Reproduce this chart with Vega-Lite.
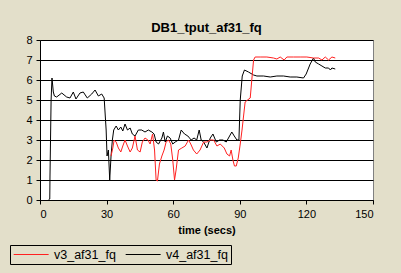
{
  "$schema": "https://vega.github.io/schema/vega-lite/v6.json",
  "width": 333,
  "height": 160,
  "autosize": {"type": "none"},
  "padding": {"left": 40, "top": 40, "right": 28, "bottom": 73},
  "background": "#E3DFCA",
  "title": {"text": "DB1_tput_af31_fq", "font": "Liberation Sans", "fontSize": 13, "fontWeight": "bold", "color": "#000000", "offset": -1, "anchor": "middle"},
  "config": {
    "view": {"fill": "#FFFFFF", "stroke": "#808080", "strokeWidth": 1},
    "axis": {"labelFont": "Liberation Sans", "labelFontSize": 11, "labelColor": "#000000", "titleFont": "Liberation Sans", "titleColor": "#000000", "domainColor": "#000000", "tickColor": "#000000", "tickSize": 4}
  },
  "data": {"values": [
    {"t": 3.8, "v": 0, "s": "v4_af31_fq"},
    {"t": 4.4, "v": 0.05, "s": "v4_af31_fq"},
    {"t": 4.5, "v": 1.2, "s": "v4_af31_fq"},
    {"t": 5.0, "v": 5.0, "s": "v4_af31_fq"},
    {"t": 5.4, "v": 6.1, "s": "v4_af31_fq"},
    {"t": 6.0, "v": 5.4, "s": "v4_af31_fq"},
    {"t": 6.5, "v": 5.2, "s": "v4_af31_fq"},
    {"t": 7.5, "v": 5.15, "s": "v4_af31_fq"},
    {"t": 9.8, "v": 5.35, "s": "v4_af31_fq"},
    {"t": 12.0, "v": 5.15, "s": "v4_af31_fq"},
    {"t": 13.5, "v": 5.1, "s": "v4_af31_fq"},
    {"t": 15.0, "v": 5.4, "s": "v4_af31_fq"},
    {"t": 16.2, "v": 5.05, "s": "v4_af31_fq"},
    {"t": 18.0, "v": 5.35, "s": "v4_af31_fq"},
    {"t": 19.5, "v": 5.4, "s": "v4_af31_fq"},
    {"t": 21.3, "v": 5.1, "s": "v4_af31_fq"},
    {"t": 23.3, "v": 5.3, "s": "v4_af31_fq"},
    {"t": 24.8, "v": 5.5, "s": "v4_af31_fq"},
    {"t": 26.3, "v": 5.2, "s": "v4_af31_fq"},
    {"t": 27.8, "v": 5.3, "s": "v4_af31_fq"},
    {"t": 28.9, "v": 5.1, "s": "v4_af31_fq"},
    {"t": 29.8, "v": 3.5, "s": "v4_af31_fq"},
    {"t": 30.2, "v": 2.2, "s": "v4_af31_fq"},
    {"t": 30.8, "v": 2.5, "s": "v4_af31_fq"},
    {"t": 31.4, "v": 1.0, "s": "v4_af31_fq"},
    {"t": 32.0, "v": 2.2, "s": "v4_af31_fq"},
    {"t": 32.6, "v": 3.0, "s": "v4_af31_fq"},
    {"t": 33.2, "v": 3.5, "s": "v4_af31_fq"},
    {"t": 34.3, "v": 3.7, "s": "v4_af31_fq"},
    {"t": 35.3, "v": 3.5, "s": "v4_af31_fq"},
    {"t": 36.4, "v": 3.65, "s": "v4_af31_fq"},
    {"t": 37.3, "v": 3.45, "s": "v4_af31_fq"},
    {"t": 38.3, "v": 3.8, "s": "v4_af31_fq"},
    {"t": 39.4, "v": 3.5, "s": "v4_af31_fq"},
    {"t": 40.6, "v": 3.6, "s": "v4_af31_fq"},
    {"t": 41.6, "v": 3.3, "s": "v4_af31_fq"},
    {"t": 42.8, "v": 3.2, "s": "v4_af31_fq"},
    {"t": 44.3, "v": 3.5, "s": "v4_af31_fq"},
    {"t": 45.8, "v": 3.5, "s": "v4_af31_fq"},
    {"t": 47.3, "v": 3.4, "s": "v4_af31_fq"},
    {"t": 48.8, "v": 3.5, "s": "v4_af31_fq"},
    {"t": 50.4, "v": 3.4, "s": "v4_af31_fq"},
    {"t": 51.4, "v": 3.3, "s": "v4_af31_fq"},
    {"t": 52.3, "v": 2.9, "s": "v4_af31_fq"},
    {"t": 53.4, "v": 2.8, "s": "v4_af31_fq"},
    {"t": 54.9, "v": 3.1, "s": "v4_af31_fq"},
    {"t": 55.6, "v": 3.4, "s": "v4_af31_fq"},
    {"t": 56.4, "v": 2.9, "s": "v4_af31_fq"},
    {"t": 57.4, "v": 3.2, "s": "v4_af31_fq"},
    {"t": 58.6, "v": 3.1, "s": "v4_af31_fq"},
    {"t": 59.8, "v": 2.8, "s": "v4_af31_fq"},
    {"t": 60.9, "v": 2.9, "s": "v4_af31_fq"},
    {"t": 62.4, "v": 3.0, "s": "v4_af31_fq"},
    {"t": 63.6, "v": 3.5, "s": "v4_af31_fq"},
    {"t": 65.1, "v": 3.3, "s": "v4_af31_fq"},
    {"t": 66.6, "v": 3.2, "s": "v4_af31_fq"},
    {"t": 68.1, "v": 3.0, "s": "v4_af31_fq"},
    {"t": 69.4, "v": 3.1, "s": "v4_af31_fq"},
    {"t": 70.6, "v": 3.0, "s": "v4_af31_fq"},
    {"t": 71.7, "v": 3.5, "s": "v4_af31_fq"},
    {"t": 72.6, "v": 3.0, "s": "v4_af31_fq"},
    {"t": 73.7, "v": 2.9, "s": "v4_af31_fq"},
    {"t": 75.2, "v": 2.6, "s": "v4_af31_fq"},
    {"t": 76.7, "v": 3.1, "s": "v4_af31_fq"},
    {"t": 77.9, "v": 3.3, "s": "v4_af31_fq"},
    {"t": 79.4, "v": 2.9, "s": "v4_af31_fq"},
    {"t": 80.9, "v": 3.0, "s": "v4_af31_fq"},
    {"t": 82.4, "v": 3.0, "s": "v4_af31_fq"},
    {"t": 83.9, "v": 2.9, "s": "v4_af31_fq"},
    {"t": 85.4, "v": 3.2, "s": "v4_af31_fq"},
    {"t": 86.4, "v": 3.4, "s": "v4_af31_fq"},
    {"t": 87.5, "v": 3.2, "s": "v4_af31_fq"},
    {"t": 88.7, "v": 3.0, "s": "v4_af31_fq"},
    {"t": 89.6, "v": 3.0, "s": "v4_af31_fq"},
    {"t": 90.2, "v": 5.0, "s": "v4_af31_fq"},
    {"t": 91.1, "v": 6.2, "s": "v4_af31_fq"},
    {"t": 92.1, "v": 6.5, "s": "v4_af31_fq"},
    {"t": 93.9, "v": 6.4, "s": "v4_af31_fq"},
    {"t": 96.2, "v": 6.25, "s": "v4_af31_fq"},
    {"t": 97.7, "v": 6.2, "s": "v4_af31_fq"},
    {"t": 100.7, "v": 6.2, "s": "v4_af31_fq"},
    {"t": 103.7, "v": 6.15, "s": "v4_af31_fq"},
    {"t": 106.7, "v": 6.2, "s": "v4_af31_fq"},
    {"t": 109.7, "v": 6.2, "s": "v4_af31_fq"},
    {"t": 112.7, "v": 6.15, "s": "v4_af31_fq"},
    {"t": 115.7, "v": 6.15, "s": "v4_af31_fq"},
    {"t": 118.7, "v": 6.1, "s": "v4_af31_fq"},
    {"t": 119.9, "v": 6.3, "s": "v4_af31_fq"},
    {"t": 121.7, "v": 6.8, "s": "v4_af31_fq"},
    {"t": 123.2, "v": 7.1, "s": "v4_af31_fq"},
    {"t": 124.0, "v": 6.9, "s": "v4_af31_fq"},
    {"t": 125.5, "v": 6.8, "s": "v4_af31_fq"},
    {"t": 127.0, "v": 6.7, "s": "v4_af31_fq"},
    {"t": 128.5, "v": 6.6, "s": "v4_af31_fq"},
    {"t": 130.0, "v": 6.6, "s": "v4_af31_fq"},
    {"t": 130.8, "v": 6.5, "s": "v4_af31_fq"},
    {"t": 131.5, "v": 6.6, "s": "v4_af31_fq"},
    {"t": 133.0, "v": 6.55, "s": "v4_af31_fq"},
    {"t": 32.0, "v": 2.2, "s": "v3_af31_fq"},
    {"t": 32.8, "v": 2.6, "s": "v3_af31_fq"},
    {"t": 33.4, "v": 3.0, "s": "v3_af31_fq"},
    {"t": 34.3, "v": 2.9, "s": "v3_af31_fq"},
    {"t": 35.3, "v": 2.6, "s": "v3_af31_fq"},
    {"t": 36.4, "v": 2.4, "s": "v3_af31_fq"},
    {"t": 37.3, "v": 2.7, "s": "v3_af31_fq"},
    {"t": 38.3, "v": 3.0, "s": "v3_af31_fq"},
    {"t": 39.4, "v": 2.7, "s": "v3_af31_fq"},
    {"t": 40.6, "v": 2.4, "s": "v3_af31_fq"},
    {"t": 41.6, "v": 2.6, "s": "v3_af31_fq"},
    {"t": 42.8, "v": 3.2, "s": "v3_af31_fq"},
    {"t": 43.9, "v": 2.5, "s": "v3_af31_fq"},
    {"t": 45.1, "v": 2.4, "s": "v3_af31_fq"},
    {"t": 46.1, "v": 2.9, "s": "v3_af31_fq"},
    {"t": 47.3, "v": 3.1, "s": "v3_af31_fq"},
    {"t": 48.6, "v": 3.0, "s": "v3_af31_fq"},
    {"t": 49.6, "v": 2.8, "s": "v3_af31_fq"},
    {"t": 50.7, "v": 3.3, "s": "v3_af31_fq"},
    {"t": 51.6, "v": 2.5, "s": "v3_af31_fq"},
    {"t": 52.3, "v": 1.0, "s": "v3_af31_fq"},
    {"t": 52.9, "v": 0.95, "s": "v3_af31_fq"},
    {"t": 53.8, "v": 1.8, "s": "v3_af31_fq"},
    {"t": 54.9, "v": 2.2, "s": "v3_af31_fq"},
    {"t": 55.9, "v": 2.5, "s": "v3_af31_fq"},
    {"t": 56.8, "v": 2.9, "s": "v3_af31_fq"},
    {"t": 57.9, "v": 3.0, "s": "v3_af31_fq"},
    {"t": 58.9, "v": 2.8, "s": "v3_af31_fq"},
    {"t": 59.8, "v": 2.0, "s": "v3_af31_fq"},
    {"t": 60.6, "v": 1.0, "s": "v3_af31_fq"},
    {"t": 61.3, "v": 1.5, "s": "v3_af31_fq"},
    {"t": 62.4, "v": 2.5, "s": "v3_af31_fq"},
    {"t": 63.9, "v": 2.6, "s": "v3_af31_fq"},
    {"t": 65.4, "v": 2.7, "s": "v3_af31_fq"},
    {"t": 66.9, "v": 3.0, "s": "v3_af31_fq"},
    {"t": 67.9, "v": 2.8, "s": "v3_af31_fq"},
    {"t": 69.1, "v": 2.5, "s": "v3_af31_fq"},
    {"t": 70.6, "v": 2.3, "s": "v3_af31_fq"},
    {"t": 72.1, "v": 2.5, "s": "v3_af31_fq"},
    {"t": 73.7, "v": 2.9, "s": "v3_af31_fq"},
    {"t": 75.2, "v": 2.9, "s": "v3_af31_fq"},
    {"t": 76.7, "v": 3.0, "s": "v3_af31_fq"},
    {"t": 78.2, "v": 3.0, "s": "v3_af31_fq"},
    {"t": 79.7, "v": 2.7, "s": "v3_af31_fq"},
    {"t": 81.2, "v": 2.8, "s": "v3_af31_fq"},
    {"t": 83.0, "v": 2.6, "s": "v3_af31_fq"},
    {"t": 84.2, "v": 2.3, "s": "v3_af31_fq"},
    {"t": 85.4, "v": 2.2, "s": "v3_af31_fq"},
    {"t": 86.1, "v": 2.5, "s": "v3_af31_fq"},
    {"t": 86.9, "v": 2.0, "s": "v3_af31_fq"},
    {"t": 87.6, "v": 1.7, "s": "v3_af31_fq"},
    {"t": 88.4, "v": 1.7, "s": "v3_af31_fq"},
    {"t": 89.3, "v": 2.1, "s": "v3_af31_fq"},
    {"t": 90.2, "v": 2.8, "s": "v3_af31_fq"},
    {"t": 91.0, "v": 3.5, "s": "v3_af31_fq"},
    {"t": 91.7, "v": 4.2, "s": "v3_af31_fq"},
    {"t": 92.4, "v": 4.9, "s": "v3_af31_fq"},
    {"t": 93.5, "v": 5.0, "s": "v3_af31_fq"},
    {"t": 94.7, "v": 5.1, "s": "v3_af31_fq"},
    {"t": 95.4, "v": 6.0, "s": "v3_af31_fq"},
    {"t": 96.2, "v": 7.0, "s": "v3_af31_fq"},
    {"t": 96.9, "v": 7.15, "s": "v3_af31_fq"},
    {"t": 99.2, "v": 7.15, "s": "v3_af31_fq"},
    {"t": 102.2, "v": 7.15, "s": "v3_af31_fq"},
    {"t": 105.2, "v": 7.1, "s": "v3_af31_fq"},
    {"t": 106.7, "v": 7.05, "s": "v3_af31_fq"},
    {"t": 108.2, "v": 7.15, "s": "v3_af31_fq"},
    {"t": 110.0, "v": 7.0, "s": "v3_af31_fq"},
    {"t": 111.2, "v": 7.15, "s": "v3_af31_fq"},
    {"t": 114.2, "v": 7.15, "s": "v3_af31_fq"},
    {"t": 117.2, "v": 7.15, "s": "v3_af31_fq"},
    {"t": 120.2, "v": 7.15, "s": "v3_af31_fq"},
    {"t": 123.2, "v": 7.1, "s": "v3_af31_fq"},
    {"t": 125.5, "v": 7.1, "s": "v3_af31_fq"},
    {"t": 127.0, "v": 7.0, "s": "v3_af31_fq"},
    {"t": 128.5, "v": 7.15, "s": "v3_af31_fq"},
    {"t": 130.0, "v": 7.0, "s": "v3_af31_fq"},
    {"t": 131.5, "v": 7.15, "s": "v3_af31_fq"},
    {"t": 133.0, "v": 7.1, "s": "v3_af31_fq"}
  ]},
  "mark": {"type": "line", "strokeWidth": 1, "interpolate": "linear"},
  "encoding": {
    "x": {"field": "t", "type": "quantitative", "scale": {"domain": [0, 150], "nice": false, "zero": false},
      "axis": {"values": [0, 30, 60, 90, 120, 150], "grid": false, "title": "time (secs)", "titleFontSize": 11, "titleFontWeight": "bold", "titlePadding": 5, "labelPadding": 4}},
    "y": {"field": "v", "type": "quantitative", "scale": {"domain": [0, 8], "nice": false},
      "axis": {"values": [0, 1, 2, 3, 4, 5, 6, 7, 8], "grid": true, "gridColor": "#000000", "gridOpacity": 1, "gridWidth": 1, "title": null, "labelPadding": 4}},
    "color": {"field": "s", "type": "nominal",
      "scale": {"domain": ["v3_af31_fq", "v4_af31_fq"], "range": ["#FF2020", "#000000"]},
      "legend": {"title": null, "orient": "none", "legendX": -30, "legendY": 205, "direction": "horizontal", "symbolType": "M-1,0H5", "symbolSize": 136, "symbolStrokeWidth": 1, "labelFont": "Liberation Sans", "labelFontSize": 12.5, "labelColor": "#000000", "strokeColor": "#000000", "padding": 3, "columnPadding": 7, "labelOffset": 28}},
    "detail": {"field": "s"}
  }
}
